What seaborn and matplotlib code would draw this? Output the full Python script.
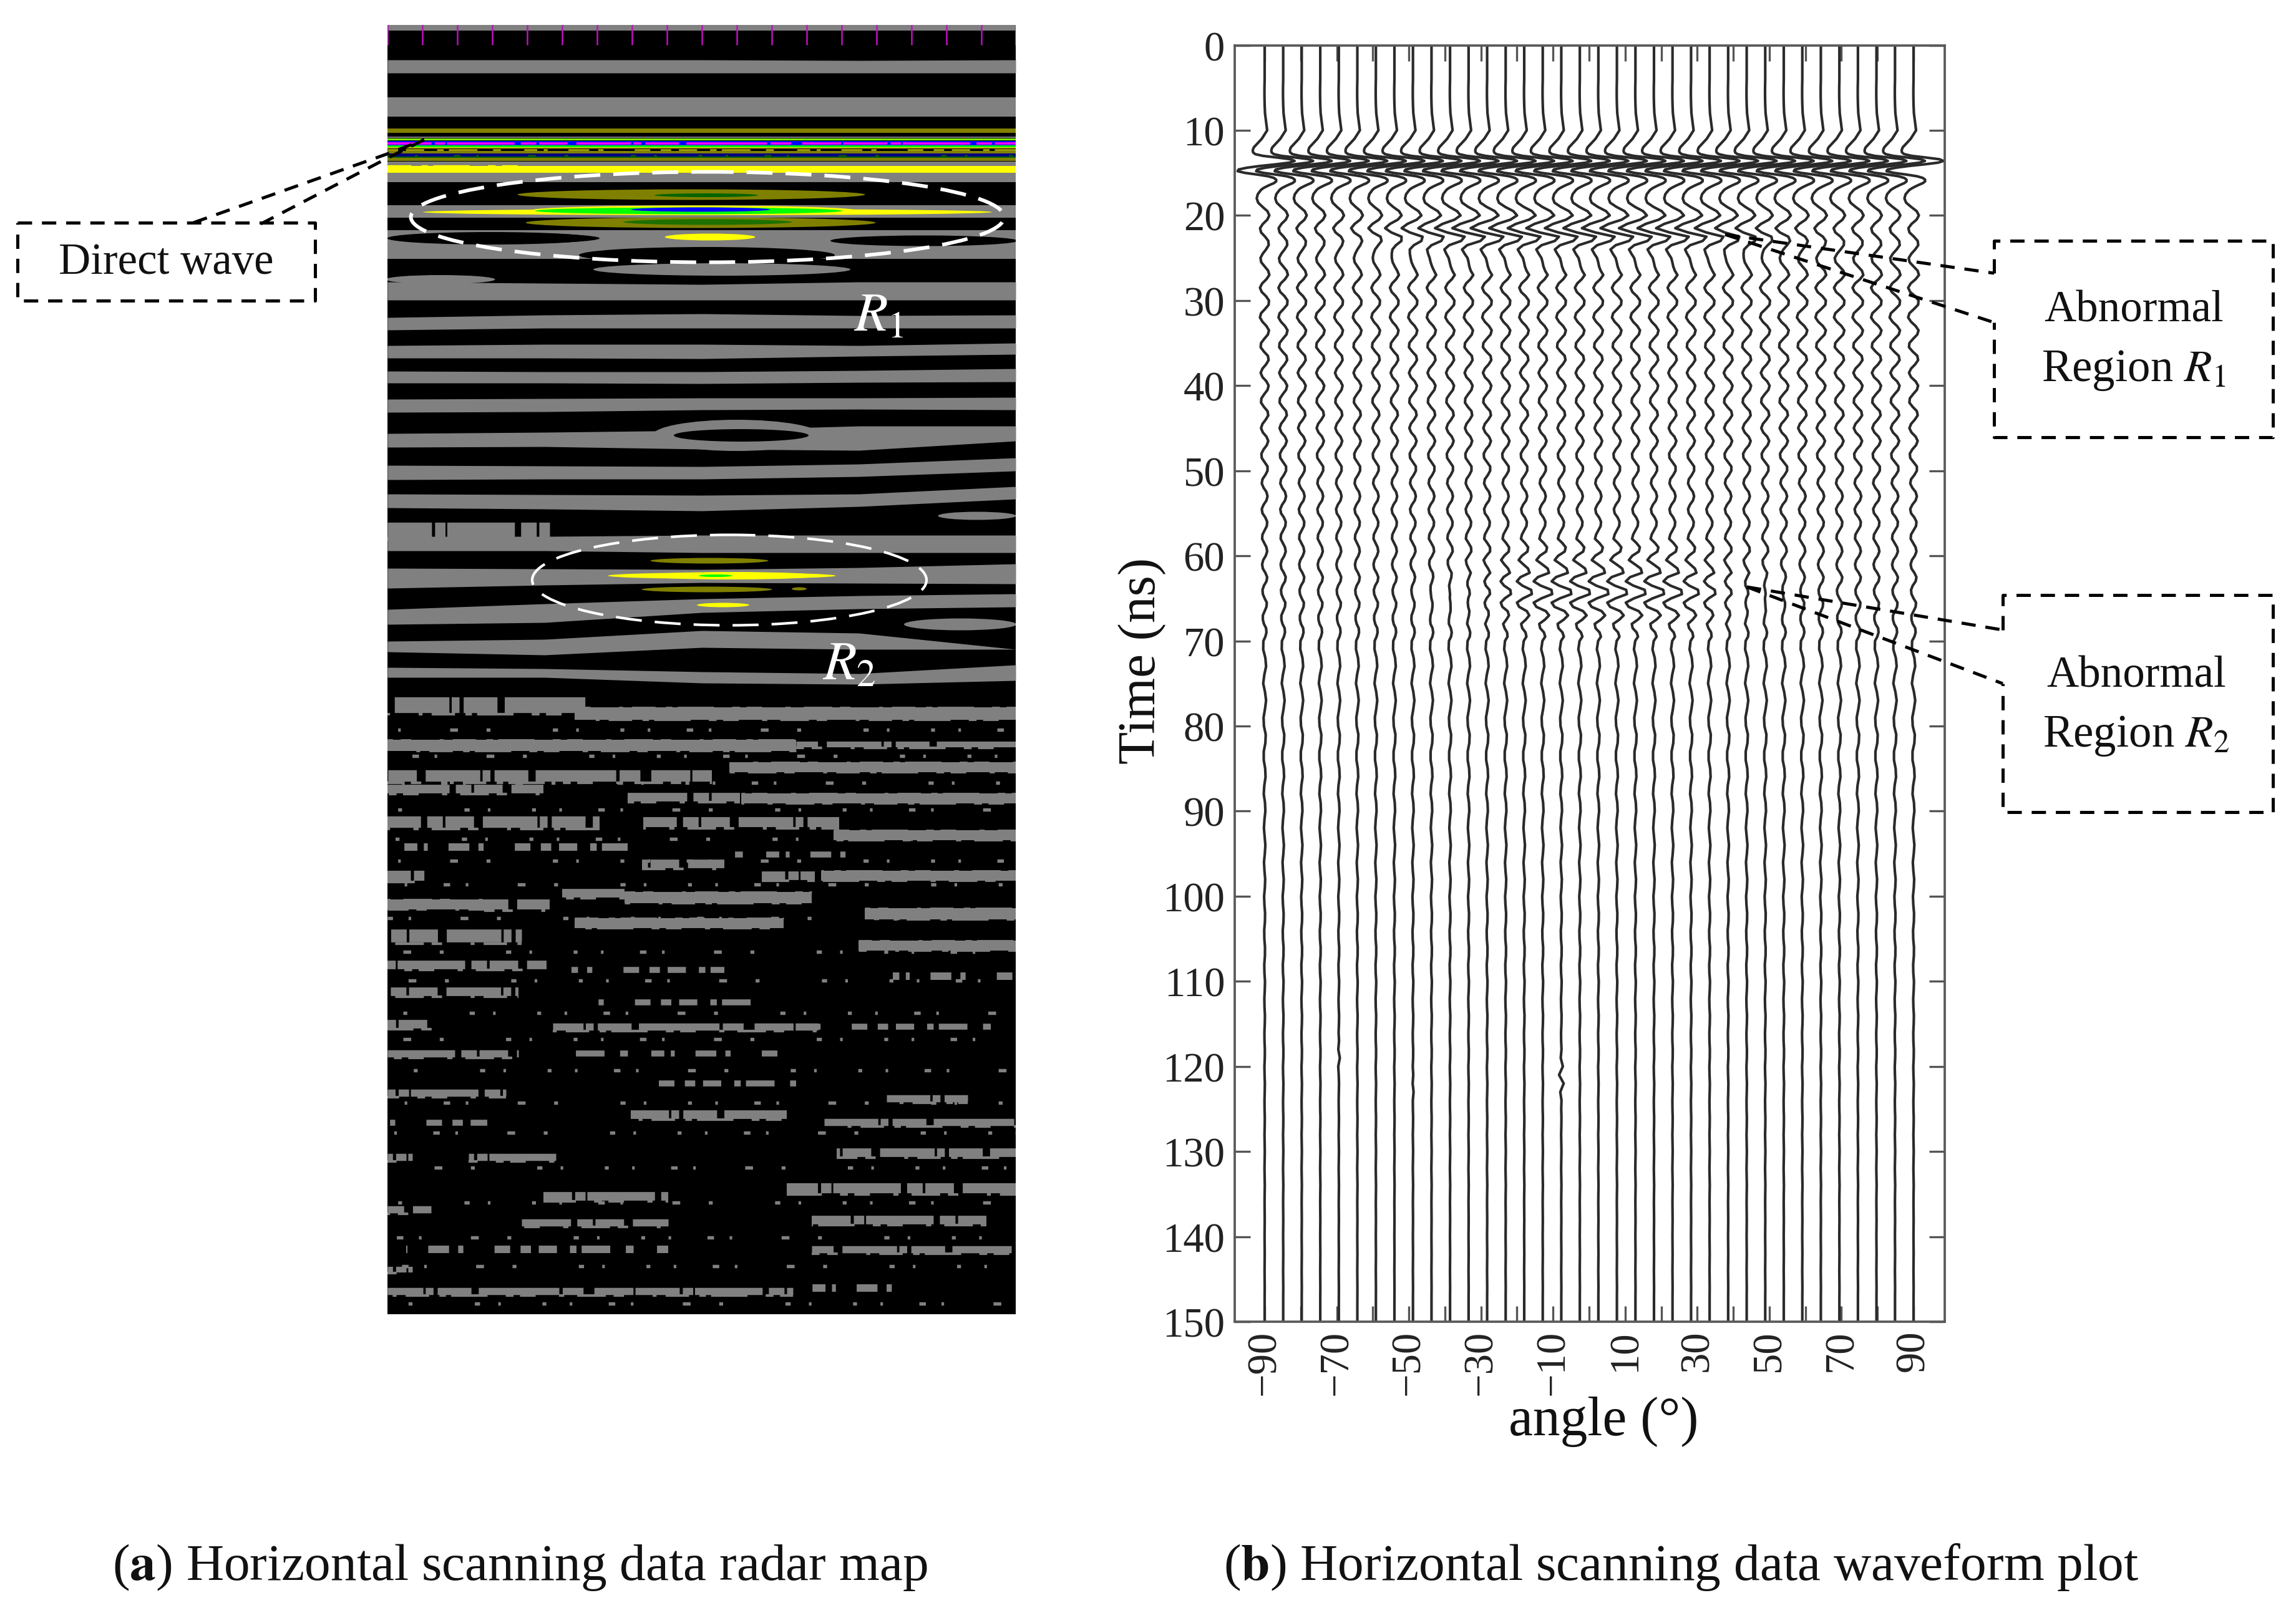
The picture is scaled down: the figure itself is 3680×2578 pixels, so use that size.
#!/usr/bin/python3

import numpy as np
import pandas as pd
import matplotlib
matplotlib.use("Agg")
import matplotlib.pyplot as plt
from matplotlib.patches import Ellipse
import seaborn as sns

# ---- panel (a): radar map, units are pixels of the map itself
map_ticks = [0, 56, 112, 168, 224, 280, 336, 392, 448, 504, 560, 616, 672, 728, 784, 840, 896, 952, 1007]
knot_x = [0, 252, 504, 756, 1007]

band_top = [[56, 56, 56, 57, 56], [116, 116, 116, 116, 116], [289, 289, 289, 289, 289],
            [329, 329, 329, 329, 329], [412, 414, 416, 412, 412],
            [469, 465, 463, 466, 465], [514, 512, 512, 514, 510], [555, 556, 556, 554, 551],
            [600, 599, 598, 598, 597], [655, 653, 650, 643, 643], [706, 707, 708, 704, 694],
            [752, 753, 754, 752, 740], [820, 820, 818, 818, 818], [871, 872, 873, 870, 864],
            [937, 928, 920, 915, 912], [988, 985, 971, 975, 1001], [1030, 1032, 1037, 1040, 1026]]
band_bot = [[77, 77, 77, 77, 77], [147, 147, 147, 147, 147], [309, 309, 309, 309, 309],
            [375, 375, 375, 375, 375], [441, 441, 441, 441, 441],
            [489, 486, 486, 486, 486], [534, 534, 535, 531, 528], [574, 574, 575, 573, 572],
            [621, 620, 617, 616, 617], [677, 676, 680, 682, 667], [729, 728, 728, 724, 715],
            [774, 776, 779, 772, 760], [843, 843, 846, 846, 846], [903, 898, 894, 895, 896],
            [961, 958, 942, 936, 933], [1005, 1010, 998, 1001, 1001], [1046, 1046, 1055, 1057, 1051]]

stack_top = [0, 166, 179, 182, 186, 193, 196, 202, 206, 211, 213, 219, 226, 237]
stack_bot = [9, 173, 181, 185, 193, 196, 198, 206, 211, 213, 218, 226, 237, 252]
stack_col = ["#808080", "#808000", "#808080", "#80ff00", "#0000ff", "#00ff00", "#c8c800",
             "#808000", "#000080", "#006400", "#808000", "#808080", "#ffff00", "#808080"]

# loose grey patches and holes: centre x, centre y, width, height, colour
blob_x = [165, 170, 860, 512, 536, 560, 567, 85, 945, 918]
blob_y = [342, 342, 346, 369, 392, 658, 658, 408, 787, 961]
blob_w = [330, 340, 300, 410, 412, 270, 216, 175, 125, 180]
blob_h = [20, 18, 17, 26, 20, 50, 20, 14, 13, 19]
blob_c = ["#000000", "#000000", "#000000", "#000000", "#808080", "#808080", "#000000", "#808080", "#808080", "#808080"]

streak_x = [487, 511, 513, 490, 483, 502, 502, 513, 517, 516, 536, 552, 526, 512, 660, 538]
streak_y = [272, 273, 300, 297, 298, 296, 317, 316, 340, 859, 883, 883, 883, 905, 904, 930]
streak_w = [557, 166, 912, 520, 493, 223, 561, 270, 145, 189, 365, 280, 54, 209, 24, 84]
streak_h = [17, 6, 10, 15, 11, 7, 17, 9, 11, 9, 10, 12, 4, 9, 5, 7]
streak_c = ["#808000", "#006400", "#ffff00", "#ffff00", "#00ff00", "#0000ff", "#808000", "#1e7000", "#ffff00",
            "#808000", "#ffff00", "#ffff00", "#00ff00", "#808000", "#808000", "#ffff00"]

# torn stripes lower down: row, thickness, from, to, kind (s solid, b broken, d sparse)
rough_y = [810, 1090, 1104, 1155, 1153, 1204, 1190, 1225, 1238, 1240, 1278, 1278, 1299, 1318, 1345, 1330,
           1364, 1364, 1364, 1410, 1410, 1392, 1399, 1425, 1460, 1440, 1476, 1507, 1515, 1525, 1550, 1567,
           1602, 1606, 1606, 1649, 1649, 1697, 1712, 1721, 1747, 1760, 1759, 1815, 1815, 1808,
           1878, 1865, 1899, 1920, 1916, 1963, 1963, 1995, 2030, 2025]
rough_t = [22, 22, 20, 18, 8, 16, 16, 12, 12, 16, 16, 14, 16, 10, 12, 8,
           14, 12, 16, 16, 14, 12, 18, 18, 18, 16, 16, 12, 8, 10, 12, 8,
           12, 10, 8, 10, 8, 8, 10, 10, 12, 8, 10, 10, 10, 12,
           12, 14, 10, 10, 12, 10, 10, 8, 10, 10]
rough_a = [0, 0, 300, 0, 655, 0, 548, 0, 385, 567, 0, 410, 715, 0, 408, 555,
           0, 600, 695, 0, 155, 280, 380, 765, 0, 300, 755, 0, 295, 810, 0, 330,
           0, 265, 690, 0, 300, 410, 0, 800, 390, 0, 700, 130, 0, 720,
           250, 640, 0, 215, 680, 30, 680, 0, 0, 650]
rough_b = [260, 320, 1007, 655, 1007, 520, 1007, 250, 565, 1007, 340, 724, 1007, 385, 540, 775,
           60, 685, 1007, 155, 260, 380, 680, 1007, 215, 635, 1007, 255, 540, 1007, 210, 600,
           75, 690, 1000, 210, 640, 655, 190, 930, 640, 160, 1007, 270, 40, 1007,
           450, 1007, 70, 450, 960, 450, 1000, 40, 650, 830]
rough_k = ["b", "b", "s", "s", "b", "b", "s", "b", "b", "s", "b", "b", "s", "d", "b", "d",
           "b", "b", "s", "s", "b", "b", "s", "s", "b", "s", "s", "b", "d", "d", "b", "d",
           "b", "b", "d", "b", "d", "d", "b", "b", "b", "d", "b", "b", "b", "b",
           "b", "b", "b", "b", "b", "d", "b", "b", "b", "d"]

# rows of loose specks between the torn stripes
speck_y = [1130, 1172, 1215, 1258, 1305, 1340, 1378, 1432, 1486, 1532, 1584, 1626, 1676, 1728, 1776, 1832, 1888, 1944, 1990, 2050]

# ---- panel (b): waveforms, deflection in degrees
wave_a = [0, 0, 0, 0, 0, -0.05, -0.05, 0, 0.1, 0.4, 0.7, -0.8]                       # 0-11 ns, step 1
wave_b = [-3.0, -3.2, -3.3, -3.2, -2.6, -0.5, 3.5, 7.2, 8.3, 6.8, 3.0, -1.5, -5.0,
          -7.2, -7.5, -5.5, -2.0, 1.0, 2.6, 3.2, 3.2, 2.6, 1.5, 0.5, -0.4]           # 12-16.8 ns, step 0.2
wave_c = [-1.0, -1.9, -2.2, -1.8, -0.6, 0.7, 1.2, 0.7, -0.4, -1.1, -1.0, -0.1, 0.9, 1.2, 0.5, -0.5,
          -1.2, -1.0, 0.0, 1.0, 1.3, 0.5, -0.7, -1.3, -0.8, 0.4, 1.2, 1.1, 0.1, -1.0, -1.3, -0.6,
          0.5, 1.2, 0.9, -0.1, -1.0, -1.1, -0.2, 0.9, 1.1, 0.4, -0.6, -1.1, -0.6, 0.5, 1.1, 0.8,
          -0.1, -0.9, -1.0, -0.2, 0.8, 1.0, 0.3, -0.6, -1.0, -0.5, 0.5, 1.0, 0.6, -0.3, -0.9, -0.8,
          0.0, 0.8, 0.8, 0.2, -0.6, -0.8, -0.3, 0.5, 0.8, 0.5, -0.3, -0.8, -0.6, 0.2, 0.7, 0.6,
          0.0, -0.6, -0.7, -0.1, 0.5, 0.7, 0.3, -0.4, -0.7, -0.5, 0.2, 0.7, 0.5, -0.2, -0.6, -0.5,
          0.0, 0.6, 0.5, 0.0, -0.5, -0.5, -0.2, 0.4, 0.5, 0.2]                       # 17-69.5 ns, step 0.5
wave_d = [-0.35, -0.4, 0.2, 0.4, -0.1, -0.4, 0.1, 0.4, 0.1, -0.3, -0.2, 0.3, 0.2, -0.25, -0.25, 0.15,
          0.25, -0.1, -0.25, 0.1, 0.2, -0.05, -0.2, 0.0, 0.2, 0.05, -0.18, -0.05, 0.15, 0.06, -0.15, -0.06,
          0.12, 0.08, -0.12, -0.08, 0.1, 0.08, -0.1, -0.06, 0.1, 0.04, -0.08, -0.04, 0.08, 0.04, -0.06, -0.04,
          0.06, 0.04, -0.06, -0.02, 0.06, 0.02, -0.04, -0.02, 0.04, 0.02, -0.04, 0.0, 0.04, 0.0, -0.04, 0.0,
          0.04, 0.0, -0.02, 0.0, 0.02, 0.0, -0.02, 0.0, 0.02, 0.0, -0.02, 0.0, 0.02, 0.0, 0.0, 0.0, 0.0]   # 70-150 ns

r1_start = 18.5
r1_burst = [0.0, 0.5, 1.4, 1.9, 0.6, -1.9, -3.4, 0.2, 4.6, 2.4, -1.6, -2.3, -0.6, 0.9, 1.0, 0.2, -0.4, 0.0]
r2_start = 57.5
r2_burst = [0.0, -0.2, 0.4, 0.7, 0.2, -1.2, -1.4, 0.6, 2.0, 1.6, -2.2, -3.2, -0.4, 3.2, 3.3, -0.4, -3.3, -2.4, 0.9,
            2.4, 1.2, -0.8, -1.2, -0.2, 0.5, 0.3, 0.0]

trace_count = 36
gain_wiggle = [1.0, 1.0, 1.0, 1.0, 0.95, 0.95, 0.95, 0.95, 1.0, 1.0, 1.0, 1.0, 1.05, 1.05, 1.05, 1.05, 1.05, 1.05,
               1.05, 1.05, 1.05, 1.05, 1.05, 1.05, 1.1, 1.1, 1.1, 1.1, 1.15, 1.15, 1.15, 1.15, 1.15, 1.15, 1.15, 1.15]
gain_r1 = [0.05, 0.05, 0.1, 0.1, 0.15, 0.2, 0.3, 0.45, 0.6, 0.75, 0.9, 1.0, 1.0, 1.0, 1.0, 1.0, 1.0, 1.0,
           1.0, 1.0, 1.0, 1.0, 1.0, 0.95, 0.85, 0.7, 0.55, 0.4, 0.3, 0.2, 0.15, 0.1, 0.1, 0.05, 0.05, 0.05]
gain_r2 = [0, 0, 0, 0, 0, 0, 0, 0.02, 0.05, 0.1, 0.15, 0.25, 0.4, 0.6, 0.8, 0.95, 1.0, 1.0,
           1.0, 1.0, 1.0, 1.0, 0.95, 0.8, 0.65, 0.45, 0.3, 0.2, 0.1, 0.05, 0.02, 0, 0, 0, 0, 0]

# short kinks seen on single traces: trace, first ns, deflection per ns
kink_trace = [16, 4, 8]
kink_start = [119, 117, 120]
kink_amp = [[-0.2, 0.5, -0.6, 0.6, -0.3, 0.1], [0.1, -0.2, 0.25, -0.1, 0.0, 0.0], [0.0, 0.1, -0.15, 0.15, 0.0, 0.0]]

y_ticks = list(range(0, 151, 10))
x_label_ticks = [-90, -70, -50, -30, -10, 10, 30, 50, 70, 90]
x_minor_ticks = [-80, -60, -40, -20, 0, 20, 40, 60, 80]

sns.set_theme(style="white")
plt.rcParams["font.family"] = ["Liberation Serif", "DejaVu Serif"]
plt.rcParams["mathtext.fontset"] = "stix"
plt.rcParams["lines.scale_dashes"] = False

W, H = 3680, 2579
fig = plt.figure(figsize=(W / 300, H / 300), dpi=300, facecolor="white")


def px_axes(x0, y0, x1, y1):
    return fig.add_axes([x0 / W, 1 - y1 / H, (x1 - x0) / W, (y1 - y0) / H])


# irregular on/off lengths for the torn stripes, in points
BROKEN_A = (17, 1.2, 4, 0.7, 26, 2.4, 6, 1.0, 11, 3.4, 21, 0.9, 3, 1.6, 13, 2.8, 31, 1.3, 8, 4.2, 15, 0.8)
BROKEN_B = (9, 4, 2.5, 2, 14, 7, 3, 2.5, 6, 9, 2, 5, 11, 3, 4, 11, 1.5, 3.5)
SPARSE_A = (4, 3, 7, 5, 2.5, 2, 11, 6, 3, 9, 5, 2.5, 1.5, 8, 8, 3.5, 2, 12, 6, 4)
SPARSE_B = (1.5, 9, 1, 14, 2.5, 6, 1, 19, 3, 11, 1.5, 24, 2, 7, 1, 16)
GREY = "#808080"

### (a) radar map
ax_map = px_axes(621, 41, 1628, 2108)
ax_map.set_facecolor("black")
ax_map.set_xlim(0, 1007)
ax_map.set_ylim(2067, 0)
ax_map.set_xticks([])
ax_map.set_yticks([])
for s in ax_map.spines.values():
    s.set_visible(False)

for top, bot in zip(band_top, band_bot):
    ax_map.fill_between(knot_x, top, bot, color=GREY, lw=0)
for y0, y1, c in zip(stack_top, stack_bot, stack_col):
    ax_map.fill_between([0, 1007], y0, y1, color=c, lw=0)
ax_map.hlines(189.5, 0, 1007, color="#ff00ff", lw=0.9, linestyles=[(0, BROKEN_A)], capstyle="butt")
ax_map.hlines(200, 0, 1007, color="#a0a000", lw=0.7, linestyles=[(0, SPARSE_A)], capstyle="butt")
ax_map.hlines(208.5, 0, 1007, color="#0c5c0c", lw=0.6, linestyles=[(0, SPARSE_B)], capstyle="butt")
ax_map.hlines(226, 0, 240, color="#ffff00", lw=0.8, linestyles=[(0, BROKEN_B)], capstyle="butt")
ax_map.vlines(map_ticks, 0, 32, color="#c010c0", lw=0.6)

for x, y, w, h, c in zip(blob_x, blob_y, blob_w, blob_h, blob_c):
    ax_map.add_patch(Ellipse((x, y), w, h, fc=c, ec="none"))
for x, y, w, h, c in zip(streak_x, streak_y, streak_w, streak_h, streak_c):
    ax_map.add_patch(Ellipse((x, y), w, h, fc=c, ec="none"))

for y, t, a, b, k in zip(rough_y, rough_t, rough_a, rough_b, rough_k):
    lw = t * 72 / 300
    ph = y * 7 % 90    # start each row at another point of the dash pattern
    if k == "s":
        ax_map.hlines(y, a, b, color=GREY, lw=lw, capstyle="butt")
        ax_map.hlines(y - t / 2, a, b, color=GREY, lw=0.7, linestyles=[(ph, BROKEN_B)], capstyle="butt")
        ax_map.hlines(y + t / 2, a, b, color=GREY, lw=0.7, linestyles=[(ph + 9, BROKEN_B)], capstyle="butt")
    elif k == "b":
        ax_map.hlines(y, a, b, color=GREY, lw=lw * 1.15, linestyles=[(ph, BROKEN_A)], capstyle="butt")
        ax_map.hlines(y + t * 0.7, a, b, color=GREY, lw=1.0, linestyles=[(ph + 13, BROKEN_B)], capstyle="butt")
    else:
        ax_map.hlines(y, a, b, color=GREY, lw=lw * 1.2, linestyles=[(ph, SPARSE_A)], capstyle="butt")
for y in speck_y:
    ax_map.hlines(y, 0, 1007, color=GREY, lw=1.3, linestyles=[(y * 3 % 70, SPARSE_B)], capstyle="butt")

ax_map.add_patch(Ellipse((513, 308), 951, 145, fc="none", ec="white", lw=1.4, ls=(0, (10, 5))))
ax_map.add_patch(Ellipse((548, 890), 632, 145, fc="none", ec="white", lw=1.0, ls=(0, (10, 5))))

### (b) waveform plot
time_a = np.arange(len(wave_a)) * 1.0
time_b = 12 + np.arange(len(wave_b)) * 0.2
time_c = 17 + np.arange(len(wave_c)) * 0.5
time_d = 70 + np.arange(len(wave_d)) * 1.0
time_ns = np.concatenate([time_a, time_b, time_c, time_d])
direct_part = np.concatenate([wave_a, wave_b, np.zeros(len(wave_c) + len(wave_d))])
wiggle_part = np.concatenate([np.zeros(len(wave_a) + len(wave_b)), wave_c, wave_d])
i_r1 = np.searchsorted(time_ns, r1_start)
i_r2 = np.searchsorted(time_ns, r2_start)

rows = []
angles = np.linspace(-90, 90, trace_count)
for n, angle in enumerate(angles):
    trace = angle + direct_part + gain_wiggle[n] * wiggle_part
    trace[i_r1:i_r1 + len(r1_burst)] += gain_r1[n] * np.array(r1_burst)
    trace[i_r2:i_r2 + len(r2_burst)] += gain_r2[n] * np.array(r2_burst)
    for k, k0, amp in zip(kink_trace, kink_start, kink_amp):
        if k == n:
            i_k = np.searchsorted(time_ns, k0)
            trace[i_k:i_k + len(amp)] += np.array(amp)
    rows.append(pd.DataFrame({"trace": n, "time": time_ns, "offset": trace}))
df = pd.concat(rows)

ax_w = px_axes(1979, 73.5, 3117, 2120)
sns.lineplot(data=df, x="offset", y="time", units="trace", estimator=None, sort=False,
             color="#2a2a2a", linewidth=1.0, legend=False, ax=ax_w, solid_joinstyle="round")
ax_w.set_xlim(-98.3, 98.65)
ax_w.set_ylim(150, 0)
ax_w.set_xlabel("")
ax_w.set_ylabel("")
ax_w.set_yticks(y_ticks)
ax_w.set_xticks(x_label_ticks)
ax_w.set_xticks(x_minor_ticks, minor=True)
ax_w.tick_params(axis="both", which="both", direction="in", length=6, width=0.8, color="#555555",
                 top=True, right=True, bottom=True, left=True)
ax_w.tick_params(axis="y", labelsize=16, pad=3.8, labelcolor="#222222")
ax_w.tick_params(axis="x", labelsize=16, pad=3, labelrotation=90, labelcolor="#222222")
for s in ax_w.spines.values():
    s.set_color("#5a5a5a")
    s.set_linewidth(0.9)
    s.set_visible(True)

### annotations in figure pixels
ov = fig.add_axes([0, 0, 1, 1], zorder=10)
ov.set_xlim(0, W)
ov.set_ylim(H, 0)
ov.axis("off")
dash = dict(color="black", lw=1.2, ls=(0, (5.5, 3.8)), solid_capstyle="butt", dash_capstyle="butt")

ov.plot([28, 505, 505, 28, 28], [358, 358, 483, 483, 358], **dash)
ov.plot([310, 620, 680], [358, 248, 225], **dash)
ov.plot([418, 620, 680], [360, 255, 225], **dash)
ov.plot([3196, 3196, 3643, 3643, 3196, 3196], [439, 387, 387, 702, 702, 518], **dash)
ov.plot([2765, 3196], [377, 439], **dash)
ov.plot([2765, 3196], [377, 518], **dash)
ov.plot([3210, 3210, 3643, 3643, 3210, 3210], [1011, 955, 955, 1303, 1303, 1097], **dash)
ov.plot([2800, 3210], [942, 1011], **dash)
ov.plot([2800, 3210], [942, 1097], **dash)

txt = dict(ha="center", va="center", color="#111111")
ov.text(266, 422, "Direct wave", fontsize=17, **txt)
ov.text(3420, 498, "Abnormal", fontsize=17, **txt)
ov.text(3420, 594, r"Region $R_1$", fontsize=17.5, **txt)
ov.text(3424, 1084, "Abnormal", fontsize=17, **txt)
ov.text(3424, 1180, r"Region $R_2$", fontsize=17.5, **txt)
ov.text(1408, 508, r"$R_1$", fontsize=21, ha="center", va="center", color="white")
ov.text(1361, 1068, r"$R_2$", fontsize=21, ha="center", va="center", color="white")
ov.text(1830, 1059, "Time (ns)", fontsize=20.5, rotation=90, **txt)
ov.text(2570, 2280, "angle (°)", fontsize=21, **txt)
ov.text(833, 2513, r"($\mathbf{a}$) Horizontal scanning data radar map", fontsize=20, **txt)
ov.text(2695, 2513, r"($\mathbf{b}$) Horizontal scanning data waveform plot", fontsize=20, **txt)

fig.savefig("out.png", dpi=300)
